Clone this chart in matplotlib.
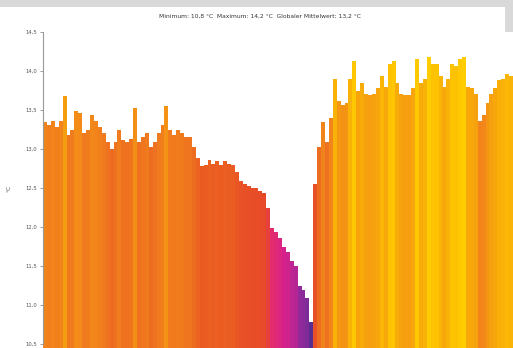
import matplotlib
matplotlib.use("Agg")
import matplotlib.pyplot as plt
from matplotlib.colors import LinearSegmentedColormap, Normalize
from matplotlib.patches import Rectangle
import numpy as np

title_text = "Minimum: 10,8 °C  Maximum: 14,2 °C  Globaler Mittelwert: 13,2 °C"
y_label = "°C"
y_ticks = [10.5, 11.0, 11.5, 12.0, 12.5, 13.0, 13.5, 14.0, 14.5]
y_tick_labels = ["10,5", "11,0", "11,5", "12,0", "12,5", "13,0", "13,5", "14,0", "14,5"]

values = [
    13.34, 13.31, 13.36, 13.28, 13.36, 13.68, 13.18, 13.24, 13.49, 13.46,
    13.21, 13.24, 13.43, 13.36, 13.28, 13.21, 13.09, 13.00, 13.09, 13.24,
    13.11, 13.09, 13.13, 13.53, 13.09, 13.15, 13.21, 13.03, 13.09, 13.21,
    13.31, 13.55, 13.24, 13.18, 13.24, 13.21, 13.15, 13.15, 13.03, 12.88,
    12.78, 12.80, 12.86, 12.81, 12.84, 12.80, 12.84, 12.81, 12.80, 12.71,
    12.59, 12.55, 12.53, 12.50, 12.50, 12.46, 12.44, 12.25, 11.99, 11.94,
    11.86, 11.74, 11.68, 11.56, 11.50, 11.25, 11.19, 11.09, 10.78, 12.55,
    13.03, 13.34, 13.09, 13.40, 13.90, 13.61, 13.56, 13.59, 13.90, 14.13,
    13.74, 13.84, 13.71, 13.69, 13.71, 13.78, 13.94, 13.80, 14.09, 14.13,
    13.84, 13.71, 13.69, 13.69, 13.78, 14.15, 13.84, 13.90, 14.18, 14.09,
    14.09, 13.93, 13.80, 13.90, 14.09, 14.06, 14.15, 14.18, 13.80, 13.78,
    13.71, 13.36, 13.43, 13.59, 13.71, 13.78, 13.88, 13.90, 13.96, 13.93,
]

W, H = 513, 348
fig = plt.figure(figsize=(W / 100, H / 100), dpi=100)
fig.patch.set_facecolor("white")

# gray frame pieces
fig.patches.append(Rectangle((0, 1 - 7 / H), 1, 7 / H, transform=fig.transFigure,
                             facecolor="#d9d9d9", edgecolor="none", zorder=0))
fig.patches.append(Rectangle((505 / W, 1 - 32 / H), 8 / W, 32 / H, transform=fig.transFigure,
                             facecolor="#d9d9d9", edgecolor="none", zorder=0))

ax = fig.add_axes([43 / W, 4 / H, 1 - 43 / W, 1 - 36 / H])

stops = [
    (10.8, "#5a2d91"),
    (11.3, "#9a2a9c"),
    (11.75, "#d8208a"),
    (12.05, "#e52f66"),
    (12.35, "#e6462a"),
    (12.8, "#ea5c22"),
    (13.2, "#f07a1e"),
    (13.5, "#f38c18"),
    (13.8, "#f7a80a"),
    (14.2, "#ffcd00"),
]
vmin, vmax = stops[0][0], stops[-1][0]
cmap = LinearSegmentedColormap.from_list(
    "temp", [((v - vmin) / (vmax - vmin), c) for v, c in stops])
norm = Normalize(vmin, vmax)

x = np.arange(len(values))
colors = [cmap(norm(v)) for v in values]
ax.bar(x, np.array(values) - y_ticks[0], bottom=y_ticks[0], width=1.0,
       color=colors, linewidth=0, clip_on=False)
ax.bar(x, [0.1] * len(values), bottom=y_ticks[0] - 0.1, width=1.0,
       color=colors, linewidth=0, clip_on=False)

ax.set_xlim(-0.5, len(values) - 0.5)
ax.set_ylim(y_ticks[0], y_ticks[-1])
ax.set_yticks(y_ticks)
ax.set_yticklabels(y_tick_labels)
ax.set_xticks([])
ax.tick_params(axis="y", labelsize=3.8, colors="#777777", length=2, width=0.5, pad=2)
for lab in ax.get_yticklabels():
    lab.set_color("#555555")
for s in ["top", "right", "bottom"]:
    ax.spines[s].set_visible(False)
ax.spines["left"].set_color("#999999")
ax.spines["left"].set_linewidth(0.8)
ax.set_ylabel(y_label, fontsize=4.2, color="#555555", labelpad=10)

fig.text(260 / W, 1 - 16 / H, title_text, ha="center", va="center",
         fontsize=4.3, color="#333333")

fig.savefig("out.png", dpi=100)
